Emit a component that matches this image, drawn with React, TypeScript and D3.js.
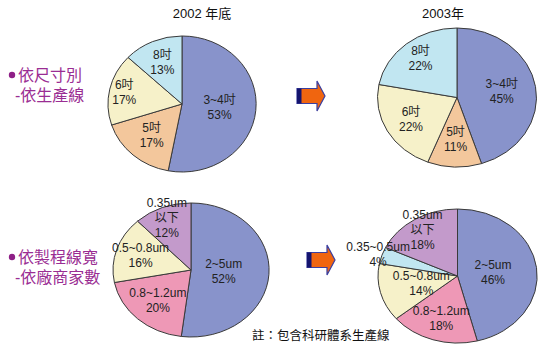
import React, { useEffect, useRef } from 'react';
import * as d3 from 'd3';

// data
const sizeCats = ['3~4吋', '5吋', '6吋', '8吋'];
const size2002 = [53, 17, 17, 13];
const size2003 = [45, 11, 22, 22];

const procCats2002 = ['2~5um', '0.8~1.2um', '0.5~0.8um', '0.35um\n以下'];
const proc2002 = [52, 20, 16, 12];
const procCats2003 = ['2~5um', '0.8~1.2um', '0.5~0.8um', '0.35~0.5um', '0.35um\n以下'];
const proc2003 = [46, 18, 14, 4, 18];

const titles = ['2002 年底', '2003年'];
const rowLabels = [['依尺寸別', '-依生產線'], ['依製程線寬', '-依廠商家數']];
const note = '註：包含科研體系生產線';

const colorMap: Record<string, string> = {
  '3~4吋': '#8893cb', '5吋': '#f3c79c', '6吋': '#f6f1c9', '8吋': '#c1e6f1',
  '2~5um': '#8893cb', '0.8~1.2um': '#ee98b6', '0.5~0.8um': '#f6f1c9',
  '0.35~0.5um': '#c1e6f1', '0.35um\n以下': '#c39acb',
};

const FONT = "'Liberation Sans', Arial, 'Noto Sans CJK TC', sans-serif";

const App: React.FC = () => {
  const svgRef = useRef<SVGSVGElement>(null);
  const width = 550;
  const height = 361;

  useEffect(() => {
    if (!svgRef.current) return;
    const svg = d3.select(svgRef.current);
    svg.selectAll('*').remove();

    // layout for each pie (ellipse radii) and label radius factors per slice
    const pies = [
      { cats: sizeCats, vals: size2002, cx: 182, cy: 104, rx: 74, ry: 68, lr: [0.51, 0.62, 0.8, 0.67] },
      { cats: sizeCats, vals: size2003, cx: 457, cy: 97.5, rx: 79.5, ry: 69.5, lr: [0.57, 0.6, 0.66, 0.72] },
      { cats: procCats2002, vals: proc2002, cx: 191, cy: 270, rx: 78, ry: 67, lr: [0.42, 0.62, 0.68, 0.84] },
      { cats: procCats2003, vals: proc2003, cx: 457.5, cy: 276, rx: 79.5, ry: 67, lr: [0.45, 0.66, 0.47, 1.05, 0.82] },
    ];

    const pieGen = d3.pie<number>().sort(null).value(d => d);
    const arc = d3.arc<d3.PieArcDatum<number>>().innerRadius(0).outerRadius(1);

    pies.forEach(p => {
      const arcs = pieGen(p.vals);
      const g = svg.append('g')
        .attr('transform', `translate(${p.cx},${p.cy}) scale(${p.rx},${p.ry})`);
      g.selectAll('path')
        .data(arcs)
        .join('path')
        .attr('d', d => arc(d) as string)
        .attr('fill', (d, i) => colorMap[p.cats[i]])
        .attr('stroke', '#3a3a3a')
        .attr('stroke-width', 1)
        .attr('vector-effect', 'non-scaling-stroke');

      arcs.forEach((d, i) => {
        const f = p.lr[i];
        const c = d3.arc<d3.PieArcDatum<number>>().innerRadius(f).outerRadius(f).centroid(d);
        const lines = [...p.cats[i].split('\n'), `${p.vals[i]}%`];
        const x = p.cx + c[0] * p.rx;
        const y = p.cy + c[1] * p.ry;
        const lh = 15;
        const t = svg.append('text')
          .attr('text-anchor', 'middle')
          .attr('font-family', FONT)
          .attr('font-size', 12)
          .attr('fill', '#222');
        lines.forEach((ln, k) => {
          t.append('tspan')
            .attr('x', x)
            .attr('y', y + (k - (lines.length - 1) / 2) * lh + 4)
            .text(ln);
        });
      });
    });

    // titles
    svg.append('text').attr('x', 202).attr('y', 18).attr('text-anchor', 'middle')
      .attr('font-family', FONT).attr('font-size', 13).attr('fill', '#111').text(titles[0]);
    svg.append('text').attr('x', 443).attr('y', 18).attr('text-anchor', 'middle')
      .attr('font-family', FONT).attr('font-size', 13).attr('fill', '#111').text(titles[1]);

    // row labels
    const rowY = [75, 257];
    rowLabels.forEach((lbl, i) => {
      svg.append('circle').attr('cx', 12).attr('cy', rowY[i]).attr('r', 3.2).attr('fill', '#8e1f86');
      svg.append('text').attr('x', 18).attr('y', rowY[i] + 6)
        .attr('font-family', FONT).attr('font-size', 16).attr('fill', '#9a2d93').text(lbl[0]);
      svg.append('text').attr('x', 15).attr('y', rowY[i] + 26)
        .attr('font-family', FONT).attr('font-size', 16).attr('fill', '#9a2d93').text(lbl[1]);
    });

    // arrows
    const arrows = [{ x: 297, y: 96 }, { x: 307, y: 260 }];
    arrows.forEach(a => {
      const g = svg.append('g').attr('transform', `translate(${a.x},${a.y})`);
      g.append('path')
        .attr('d', 'M0,-7.5 H20 V-15 L28,0 L20,15 V7.5 H0 Z')
        .attr('fill', '#f0650f')
        .attr('stroke', '#3a3fa0')
        .attr('stroke-width', 1.2);
      g.append('rect').attr('x', 0).attr('y', -7.5).attr('width', 4.5).attr('height', 15).attr('fill', '#14146e');
    });

    // note
    svg.append('text').attr('x', 252).attr('y', 340)
      .attr('font-family', FONT).attr('font-size', 12.5).attr('fill', '#111').text(note);
  }, []);

  return (
    <svg ref={svgRef} width={width} height={height}
      style={{ position: 'absolute', left: 0, top: 0, background: '#fff' }} />
  );
};

export default App;
